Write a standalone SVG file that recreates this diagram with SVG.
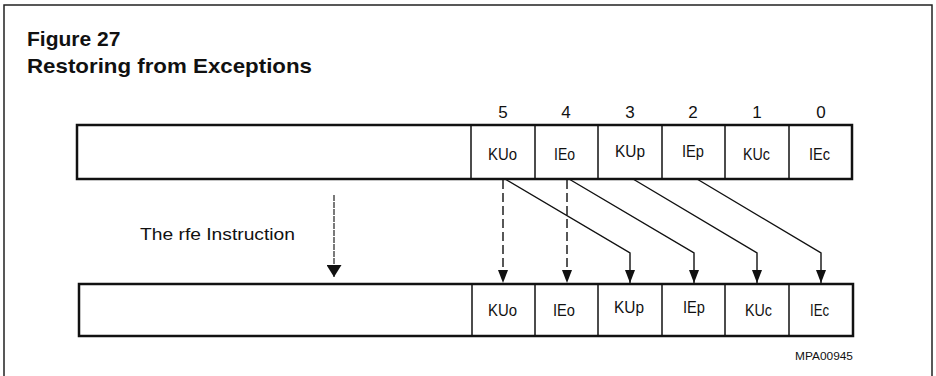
<svg xmlns="http://www.w3.org/2000/svg" width="936" height="376" viewBox="0 0 936 376">
<style>
.title{font-family:"Liberation Sans",Arial,sans-serif;font-weight:bold;font-size:21px;fill:#111}
.lbl{font-family:"Liberation Sans",Arial,sans-serif;font-size:16.5px;fill:#111}
.dig{font-family:"Liberation Sans",Arial,sans-serif;font-size:17px;fill:#111;text-anchor:middle}
.small{font-family:"Liberation Sans",Arial,sans-serif;font-size:10px;fill:#111}
.reg{fill:#fff;stroke:#111;stroke-width:2.5}
.div{stroke:#111;stroke-width:1.5}
.wire{fill:none;stroke:#111;stroke-width:1.4}
.dash{fill:none;stroke:#111;stroke-width:1.4;stroke-dasharray:9 4}
</style>
<defs>
<marker id="ah" viewBox="0 0 13 10" refX="13" refY="5" markerWidth="13" markerHeight="10" markerUnits="userSpaceOnUse" orient="auto">
<path d="M0,0 L13,5 L0,10 Z" fill="#111"/>
</marker>
<marker id="ah2" viewBox="0 0 12 15" refX="12" refY="7.5" markerWidth="12" markerHeight="15" markerUnits="userSpaceOnUse" orient="auto">
<path d="M0,0 L12,7.5 L0,15 Z" fill="#111"/>
</marker>
</defs>
<rect x="4" y="5" width="928" height="380" fill="#fff" stroke="#222" stroke-width="1.5"/>
<g id="title">
<text class="title" x="27" y="46">Figure 27</text>
<text class="title" x="27" y="73" textLength="285" lengthAdjust="spacingAndGlyphs">Restoring from Exceptions</text>
</g>
<g id="bitnumbers">
<text class="dig" x="503" y="118">5</text>
<text class="dig" x="566" y="118">4</text>
<text class="dig" x="630" y="118">3</text>
<text class="dig" x="693" y="118">2</text>
<text class="dig" x="757" y="118">1</text>
<text class="dig" x="821" y="118">0</text>
</g>
<g id="top-register">
<rect class="reg" x="77" y="125" width="775" height="54"/>
<line class="div" x1="471" y1="125" x2="471" y2="179"/>
<line class="div" x1="535" y1="125" x2="535" y2="179"/>
<line class="div" x1="598" y1="125" x2="598" y2="179"/>
<line class="div" x1="662" y1="125" x2="662" y2="179"/>
<line class="div" x1="725" y1="125" x2="725" y2="179"/>
<line class="div" x1="789" y1="125" x2="789" y2="179"/>
<text class="lbl" x="488" y="160" textLength="29" lengthAdjust="spacingAndGlyphs">KUo</text>
<text class="lbl" x="554" y="160" textLength="21" lengthAdjust="spacingAndGlyphs">IEo</text>
<text class="lbl" x="615" y="157" textLength="30" lengthAdjust="spacingAndGlyphs">KUp</text>
<text class="lbl" x="682" y="157" textLength="22" lengthAdjust="spacingAndGlyphs">IEp</text>
<text class="lbl" x="743" y="160" textLength="27" lengthAdjust="spacingAndGlyphs">KUc</text>
<text class="lbl" x="809" y="160" textLength="21" lengthAdjust="spacingAndGlyphs">IEc</text>
</g>
<g id="rfe-label">
<text class="lbl" x="140" y="240" textLength="155" lengthAdjust="spacingAndGlyphs">The rfe Instruction</text>
</g>
<g id="bottom-register">
<rect class="reg" x="79" y="284" width="774" height="52"/>
<line class="div" x1="472" y1="284" x2="472" y2="336"/>
<line class="div" x1="535" y1="284" x2="535" y2="336"/>
<line class="div" x1="598" y1="284" x2="598" y2="336"/>
<line class="div" x1="662" y1="284" x2="662" y2="336"/>
<line class="div" x1="725" y1="284" x2="725" y2="336"/>
<line class="div" x1="789" y1="284" x2="789" y2="336"/>
<text class="lbl" x="488" y="316" textLength="29" lengthAdjust="spacingAndGlyphs">KUo</text>
<text class="lbl" x="553" y="316" textLength="22" lengthAdjust="spacingAndGlyphs">IEo</text>
<text class="lbl" x="614" y="313" textLength="30" lengthAdjust="spacingAndGlyphs">KUp</text>
<text class="lbl" x="683" y="313" textLength="22" lengthAdjust="spacingAndGlyphs">IEp</text>
<text class="lbl" x="745" y="316" textLength="27" lengthAdjust="spacingAndGlyphs">KUc</text>
<text class="lbl" x="810" y="316" textLength="19" lengthAdjust="spacingAndGlyphs">IEc</text>
</g>
<g id="connectors">
<line x1="334" y1="195" x2="334" y2="277" stroke="#222" stroke-width="1.2" stroke-dasharray="6 1" marker-end="url(#ah2)"/>
<line class="dash" x1="503" y1="180" x2="503" y2="283" marker-end="url(#ah)"/>
<line class="dash" x1="567" y1="180" x2="567" y2="283" marker-end="url(#ah)"/>
<polyline class="wire" points="505,179 630,253 630,283" marker-end="url(#ah)"/>
<polyline class="wire" points="569,179 694,253 694,283" marker-end="url(#ah)"/>
<polyline class="wire" points="633,179 757,253 757,283" marker-end="url(#ah)"/>
<polyline class="wire" points="697,179 821,253 821,283" marker-end="url(#ah)"/>
</g>
<g id="code">
<text class="small" x="795" y="360" textLength="58" lengthAdjust="spacingAndGlyphs">MPA00945</text>
</g>
</svg>
